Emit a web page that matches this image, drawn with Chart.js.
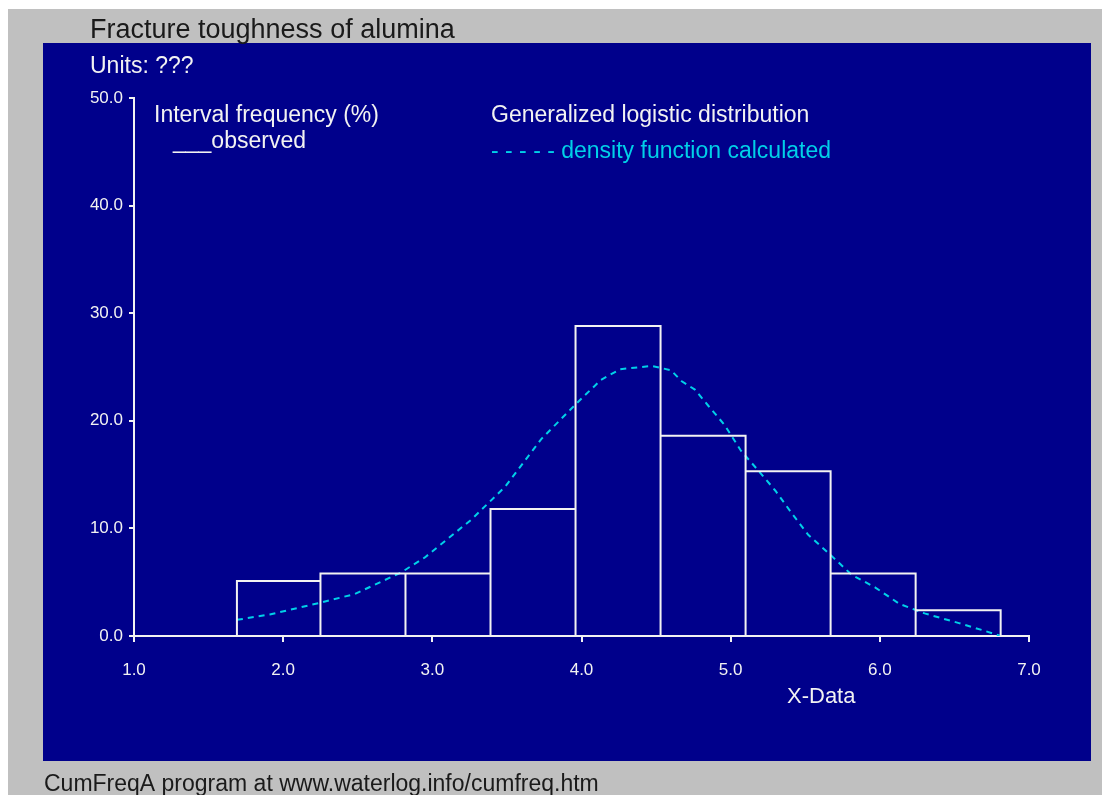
<!DOCTYPE html>
<html>
<head>
<meta charset="utf-8">
<title>Fracture toughness of alumina</title>
<script src="https://cdn.jsdelivr.net/npm/chart.js@4/dist/chart.umd.min.js"></script>
<style>
  html, body { margin: 0; padding: 0; background: #fff; }
  canvas { display: block; }
</style>
</head>
<body>
<canvas id="chart" width="1102" height="795"></canvas>
<script>
// histogram bins (x-data) and observed interval frequency in %
const binEdges = [1.69, 2.25, 2.82, 3.39, 3.96, 4.53, 5.10, 5.67, 6.24, 6.81];
const observedPct = [5.1, 5.8, 5.8, 11.8, 28.8, 18.6, 15.3, 5.8, 2.4];

// generalized logistic density
const curveX = [1.69, 1.91, 2.25, 2.48, 2.79, 2.95, 3.26, 3.49, 3.73, 3.98, 4.13, 4.26, 4.47, 4.60,
                4.67, 4.76, 4.85, 4.96, 5.07, 5.19, 5.30, 5.41, 5.52, 5.68, 5.81, 5.97, 6.13, 6.30,
                6.53, 6.71, 6.81];
const curveY = [1.5, 2.0, 3.1, 3.9, 5.9, 7.3, 10.8, 13.9, 18.3, 21.8, 23.8, 24.8, 25.1, 24.7,
                23.7, 22.9, 21.4, 19.6, 17.2, 15.3, 13.5, 11.4, 9.4, 7.4, 5.7, 4.5, 3.0, 2.1,
                1.2, 0.45, 0.0];

const xMin = 1, xMax = 7, xStep = 1;
const yMin = 0, yMax = 50, yStep = 10;

const FONT = '"Liberation Sans", Arial, sans-serif';
const NAVY = '#00008b';
const CYAN = '#00d0e8';
const WHITE = '#f2f2f2';

// outline of the histogram boxes
const histPoints = [];
observedPct.forEach((v, i) => {
  histPoints.push({ x: binEdges[i], y: 0 });
  histPoints.push({ x: binEdges[i], y: v });
  histPoints.push({ x: binEdges[i + 1], y: v });
  histPoints.push({ x: binEdges[i + 1], y: 0 });
});
const curvePoints = curveX.map((x, i) => ({ x: x, y: curveY[i] }));

const backdrop = {
  id: 'backdrop',
  beforeDraw(chart) {
    const ctx = chart.ctx;
    ctx.save();
    ctx.fillStyle = '#ffffff';
    ctx.fillRect(0, 0, 1102, 795);
    ctx.fillStyle = '#c0c0c0';
    ctx.fillRect(8, 9, 1094, 786);
    ctx.fillStyle = NAVY;
    ctx.fillRect(43, 43, 1048, 718);

    ctx.textBaseline = 'alphabetic';
    ctx.textAlign = 'left';
    ctx.fillStyle = '#1a1a1a';
    ctx.font = '27px ' + FONT;
    ctx.fillText('Fracture toughness of alumina', 90, 38);
    ctx.font = '23px ' + FONT;
    ctx.fillText('CumFreqA program at www.waterlog.info/cumfreq.htm', 44, 791);

    ctx.fillStyle = WHITE;
    ctx.fillText('Units: ???', 90, 73);
    ctx.fillText('Interval frequency (%)', 154, 122);
    ctx.fillText('___observed', 173, 148);
    ctx.fillText('Generalized logistic distribution', 491, 122);
    ctx.font = '22px ' + FONT;
    ctx.fillText('X-Data', 787, 703);
    ctx.font = '23px ' + FONT;
    ctx.fillStyle = CYAN;
    ctx.fillText('- - - - - density function calculated', 491, 158);
    ctx.restore();
  }
};

new Chart(document.getElementById('chart'), {
  type: 'line',
  data: {
    datasets: [
      {
        label: 'observed',
        data: histPoints,
        borderColor: WHITE,
        borderWidth: 2,
        pointRadius: 0,
        tension: 0,
        fill: false
      },
      {
        label: 'density function calculated',
        data: curvePoints,
        borderColor: CYAN,
        borderWidth: 2,
        borderDash: [6, 5],
        pointRadius: 0,
        tension: 0,
        fill: false
      }
    ]
  },
  options: {
    responsive: false,
    animation: false,
    devicePixelRatio: 1,
    layout: { padding: { left: 0, top: 98, right: 73, bottom: 0 } },
    plugins: {
      legend: { display: false },
      tooltip: { enabled: false }
    },
    scales: {
      x: {
        type: 'linear',
        position: 'bottom',
        min: xMin,
        max: xMax,
        ticks: {
          stepSize: xStep,
          color: WHITE,
          font: { family: FONT, size: 17 },
          padding: 18,
          callback: v => v.toFixed(1)
        },
        grid: { drawOnChartArea: false, drawTicks: true, tickLength: 6, color: WHITE, lineWidth: 2 },
        border: { display: true, color: WHITE, width: 2 },
        afterFit(s) { s.height = 795 - 636; s.paddingLeft = 0; s.paddingRight = 0; }
      },
      y: {
        type: 'linear',
        position: 'left',
        min: yMin,
        max: yMax,
        ticks: {
          stepSize: yStep,
          color: WHITE,
          font: { family: FONT, size: 17 },
          padding: 6,
          callback: v => v.toFixed(1)
        },
        grid: { drawOnChartArea: false, drawTicks: true, tickLength: 5, color: WHITE, lineWidth: 2 },
        border: { display: true, color: WHITE, width: 2 },
        afterFit(s) { s.width = 134; s.paddingTop = 0; s.paddingBottom = 0; }
      }
    }
  },
  plugins: [backdrop]
});
</script>
</body>
</html>
